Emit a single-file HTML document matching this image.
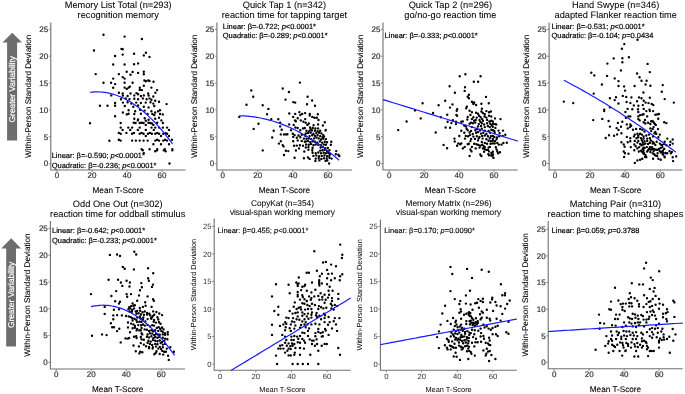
<!DOCTYPE html>
<html><head><meta charset="utf-8"><style>
html,body{margin:0;padding:0;background:#fff;overflow:hidden;width:685px;height:394px;}
svg{display:block;font-family:"Liberation Sans", sans-serif;will-change:transform;text-rendering:geometricPrecision;}
</style></head><body>
<svg width="685" height="394" viewBox="0 0 685 394">
<rect width="685" height="394" fill="#fff"/>
<text x="118.20" y="8.40" font-size="9.25" text-anchor="middle" fill="#000" stroke="#000" stroke-width="0.05">Memory List Total (n=293)</text>
<text x="118.20" y="17.50" font-size="9.25" text-anchor="middle" fill="#000" stroke="#000" stroke-width="0.05">recognition memory</text>
<path d="M50.80,22.50V170.00H185.60" fill="none" stroke="#707070" stroke-width="1.1"/>
<path d="M48.80,163.60H50.80" stroke="#707070" stroke-width="0.8"/>
<text x="48.20" y="166.48" font-size="8.0" text-anchor="end" fill="#333" stroke="#333" stroke-width="0.2">0</text>
<path d="M48.80,136.75H50.80" stroke="#707070" stroke-width="0.8"/>
<text x="48.20" y="139.63" font-size="8.0" text-anchor="end" fill="#333" stroke="#333" stroke-width="0.2">5</text>
<path d="M48.80,109.90H50.80" stroke="#707070" stroke-width="0.8"/>
<text x="48.20" y="112.78" font-size="8.0" text-anchor="end" fill="#333" stroke="#333" stroke-width="0.2">10</text>
<path d="M48.80,83.05H50.80" stroke="#707070" stroke-width="0.8"/>
<text x="48.20" y="85.93" font-size="8.0" text-anchor="end" fill="#333" stroke="#333" stroke-width="0.2">15</text>
<path d="M48.80,56.20H50.80" stroke="#707070" stroke-width="0.8"/>
<text x="48.20" y="59.08" font-size="8.0" text-anchor="end" fill="#333" stroke="#333" stroke-width="0.2">20</text>
<path d="M48.80,29.35H50.80" stroke="#707070" stroke-width="0.8"/>
<text x="48.20" y="32.23" font-size="8.0" text-anchor="end" fill="#333" stroke="#333" stroke-width="0.2">25</text>
<path d="M57.00,170.00V172.00" stroke="#707070" stroke-width="0.8"/>
<text x="57.00" y="178.36" font-size="8.0" text-anchor="middle" fill="#333" stroke="#333" stroke-width="0.2">0</text>
<path d="M92.00,170.00V172.00" stroke="#707070" stroke-width="0.8"/>
<text x="92.00" y="178.36" font-size="8.0" text-anchor="middle" fill="#333" stroke="#333" stroke-width="0.2">20</text>
<path d="M127.00,170.00V172.00" stroke="#707070" stroke-width="0.8"/>
<text x="127.00" y="178.36" font-size="8.0" text-anchor="middle" fill="#333" stroke="#333" stroke-width="0.2">40</text>
<path d="M162.00,170.00V172.00" stroke="#707070" stroke-width="0.8"/>
<text x="162.00" y="178.36" font-size="8.0" text-anchor="middle" fill="#333" stroke="#333" stroke-width="0.2">60</text>
<text x="118.20" y="192.90" font-size="8.2" text-anchor="middle" fill="#000" stroke="#000" stroke-width="0.1">Mean T-Score</text>
<text transform="translate(31.00,96.25) rotate(-90)" font-size="8.2" text-anchor="middle" fill="#000" stroke="#000" stroke-width="0.1">Within-Person Standard Deviation</text>
<text x="51.70" y="158.10" font-size="7.48" fill="#000" stroke="#000" stroke-width="0.18">Linear: β=-0.590; <tspan font-style="italic">p</tspan><0.0001*</text>
<text x="51.70" y="167.50" font-size="7.48" fill="#000" stroke="#000" stroke-width="0.18">Quadratic: β=-0.236; <tspan font-style="italic">p</tspan><0.0001*</text>
<text x="284.40" y="8.40" font-size="9.25" text-anchor="middle" fill="#000" stroke="#000" stroke-width="0.05">Quick Tap 1 (n=342)</text>
<text x="284.40" y="17.50" font-size="9.25" text-anchor="middle" fill="#000" stroke="#000" stroke-width="0.05">reaction time for tapping target</text>
<path d="M216.90,22.50V170.00H351.90" fill="none" stroke="#707070" stroke-width="1.1"/>
<path d="M214.90,163.60H216.90" stroke="#707070" stroke-width="0.8"/>
<text x="214.30" y="166.48" font-size="8.0" text-anchor="end" fill="#333" stroke="#333" stroke-width="0.2">0</text>
<path d="M214.90,136.75H216.90" stroke="#707070" stroke-width="0.8"/>
<text x="214.30" y="139.63" font-size="8.0" text-anchor="end" fill="#333" stroke="#333" stroke-width="0.2">5</text>
<path d="M214.90,109.90H216.90" stroke="#707070" stroke-width="0.8"/>
<text x="214.30" y="112.78" font-size="8.0" text-anchor="end" fill="#333" stroke="#333" stroke-width="0.2">10</text>
<path d="M214.90,83.05H216.90" stroke="#707070" stroke-width="0.8"/>
<text x="214.30" y="85.93" font-size="8.0" text-anchor="end" fill="#333" stroke="#333" stroke-width="0.2">15</text>
<path d="M214.90,56.20H216.90" stroke="#707070" stroke-width="0.8"/>
<text x="214.30" y="59.08" font-size="8.0" text-anchor="end" fill="#333" stroke="#333" stroke-width="0.2">20</text>
<path d="M214.90,29.35H216.90" stroke="#707070" stroke-width="0.8"/>
<text x="214.30" y="32.23" font-size="8.0" text-anchor="end" fill="#333" stroke="#333" stroke-width="0.2">25</text>
<path d="M222.70,170.00V172.00" stroke="#707070" stroke-width="0.8"/>
<text x="222.70" y="178.36" font-size="8.0" text-anchor="middle" fill="#333" stroke="#333" stroke-width="0.2">0</text>
<path d="M257.80,170.00V172.00" stroke="#707070" stroke-width="0.8"/>
<text x="257.80" y="178.36" font-size="8.0" text-anchor="middle" fill="#333" stroke="#333" stroke-width="0.2">20</text>
<path d="M292.90,170.00V172.00" stroke="#707070" stroke-width="0.8"/>
<text x="292.90" y="178.36" font-size="8.0" text-anchor="middle" fill="#333" stroke="#333" stroke-width="0.2">40</text>
<path d="M328.00,170.00V172.00" stroke="#707070" stroke-width="0.8"/>
<text x="328.00" y="178.36" font-size="8.0" text-anchor="middle" fill="#333" stroke="#333" stroke-width="0.2">60</text>
<text x="284.40" y="192.90" font-size="8.2" text-anchor="middle" fill="#000" stroke="#000" stroke-width="0.1">Mean T-Score</text>
<text transform="translate(197.10,96.25) rotate(-90)" font-size="8.2" text-anchor="middle" fill="#000" stroke="#000" stroke-width="0.1">Within-Person Standard Deviation</text>
<text x="222.80" y="28.90" font-size="7.48" fill="#000" stroke="#000" stroke-width="0.18">Linear: β=-0.722; <tspan font-style="italic">p</tspan><0.0001*</text>
<text x="222.80" y="37.90" font-size="7.48" fill="#000" stroke="#000" stroke-width="0.18">Quadratic: β=-0.289; <tspan font-style="italic">p</tspan><0.0001*</text>
<text x="450.35" y="8.40" font-size="9.25" text-anchor="middle" fill="#000" stroke="#000" stroke-width="0.05">Quick Tap 2 (n=296)</text>
<text x="450.35" y="17.50" font-size="9.25" text-anchor="middle" fill="#000" stroke="#000" stroke-width="0.05">go/no-go reaction time</text>
<path d="M383.00,22.50V170.00H517.70" fill="none" stroke="#707070" stroke-width="1.1"/>
<path d="M381.00,163.60H383.00" stroke="#707070" stroke-width="0.8"/>
<text x="380.40" y="166.48" font-size="8.0" text-anchor="end" fill="#333" stroke="#333" stroke-width="0.2">0</text>
<path d="M381.00,136.75H383.00" stroke="#707070" stroke-width="0.8"/>
<text x="380.40" y="139.63" font-size="8.0" text-anchor="end" fill="#333" stroke="#333" stroke-width="0.2">5</text>
<path d="M381.00,109.90H383.00" stroke="#707070" stroke-width="0.8"/>
<text x="380.40" y="112.78" font-size="8.0" text-anchor="end" fill="#333" stroke="#333" stroke-width="0.2">10</text>
<path d="M381.00,83.05H383.00" stroke="#707070" stroke-width="0.8"/>
<text x="380.40" y="85.93" font-size="8.0" text-anchor="end" fill="#333" stroke="#333" stroke-width="0.2">15</text>
<path d="M381.00,56.20H383.00" stroke="#707070" stroke-width="0.8"/>
<text x="380.40" y="59.08" font-size="8.0" text-anchor="end" fill="#333" stroke="#333" stroke-width="0.2">20</text>
<path d="M381.00,29.35H383.00" stroke="#707070" stroke-width="0.8"/>
<text x="380.40" y="32.23" font-size="8.0" text-anchor="end" fill="#333" stroke="#333" stroke-width="0.2">25</text>
<path d="M389.20,170.00V172.00" stroke="#707070" stroke-width="0.8"/>
<text x="389.20" y="178.36" font-size="8.0" text-anchor="middle" fill="#333" stroke="#333" stroke-width="0.2">0</text>
<path d="M424.10,170.00V172.00" stroke="#707070" stroke-width="0.8"/>
<text x="424.10" y="178.36" font-size="8.0" text-anchor="middle" fill="#333" stroke="#333" stroke-width="0.2">20</text>
<path d="M459.00,170.00V172.00" stroke="#707070" stroke-width="0.8"/>
<text x="459.00" y="178.36" font-size="8.0" text-anchor="middle" fill="#333" stroke="#333" stroke-width="0.2">40</text>
<path d="M493.90,170.00V172.00" stroke="#707070" stroke-width="0.8"/>
<text x="493.90" y="178.36" font-size="8.0" text-anchor="middle" fill="#333" stroke="#333" stroke-width="0.2">60</text>
<text x="450.35" y="192.90" font-size="8.2" text-anchor="middle" fill="#000" stroke="#000" stroke-width="0.1">Mean T-Score</text>
<text transform="translate(363.20,96.25) rotate(-90)" font-size="8.2" text-anchor="middle" fill="#000" stroke="#000" stroke-width="0.1">Within-Person Standard Deviation</text>
<text x="384.60" y="37.80" font-size="7.48" fill="#000" stroke="#000" stroke-width="0.18">Linear: β=-0.333; <tspan font-style="italic">p</tspan><0.0001*</text>
<text x="615.70" y="8.40" font-size="9.25" text-anchor="middle" fill="#000" stroke="#000" stroke-width="0.05">Hand Swype (n=346)</text>
<text x="615.70" y="17.50" font-size="9.25" text-anchor="middle" fill="#000" stroke="#000" stroke-width="0.05">adapted Flanker reaction time</text>
<path d="M549.10,22.50V170.00H682.30" fill="none" stroke="#707070" stroke-width="1.1"/>
<path d="M547.10,163.60H549.10" stroke="#707070" stroke-width="0.8"/>
<text x="546.50" y="166.48" font-size="8.0" text-anchor="end" fill="#333" stroke="#333" stroke-width="0.2">0</text>
<path d="M547.10,136.75H549.10" stroke="#707070" stroke-width="0.8"/>
<text x="546.50" y="139.63" font-size="8.0" text-anchor="end" fill="#333" stroke="#333" stroke-width="0.2">5</text>
<path d="M547.10,109.90H549.10" stroke="#707070" stroke-width="0.8"/>
<text x="546.50" y="112.78" font-size="8.0" text-anchor="end" fill="#333" stroke="#333" stroke-width="0.2">10</text>
<path d="M547.10,83.05H549.10" stroke="#707070" stroke-width="0.8"/>
<text x="546.50" y="85.93" font-size="8.0" text-anchor="end" fill="#333" stroke="#333" stroke-width="0.2">15</text>
<path d="M547.10,56.20H549.10" stroke="#707070" stroke-width="0.8"/>
<text x="546.50" y="59.08" font-size="8.0" text-anchor="end" fill="#333" stroke="#333" stroke-width="0.2">20</text>
<path d="M547.10,29.35H549.10" stroke="#707070" stroke-width="0.8"/>
<text x="546.50" y="32.23" font-size="8.0" text-anchor="end" fill="#333" stroke="#333" stroke-width="0.2">25</text>
<path d="M554.90,170.00V172.00" stroke="#707070" stroke-width="0.8"/>
<text x="554.90" y="178.36" font-size="8.0" text-anchor="middle" fill="#333" stroke="#333" stroke-width="0.2">0</text>
<path d="M590.00,170.00V172.00" stroke="#707070" stroke-width="0.8"/>
<text x="590.00" y="178.36" font-size="8.0" text-anchor="middle" fill="#333" stroke="#333" stroke-width="0.2">20</text>
<path d="M625.10,170.00V172.00" stroke="#707070" stroke-width="0.8"/>
<text x="625.10" y="178.36" font-size="8.0" text-anchor="middle" fill="#333" stroke="#333" stroke-width="0.2">40</text>
<path d="M660.20,170.00V172.00" stroke="#707070" stroke-width="0.8"/>
<text x="660.20" y="178.36" font-size="8.0" text-anchor="middle" fill="#333" stroke="#333" stroke-width="0.2">60</text>
<text x="615.70" y="192.90" font-size="8.2" text-anchor="middle" fill="#000" stroke="#000" stroke-width="0.1">Mean T-Score</text>
<text transform="translate(529.30,96.25) rotate(-90)" font-size="8.2" text-anchor="middle" fill="#000" stroke="#000" stroke-width="0.1">Within-Person Standard Deviation</text>
<text x="551.50" y="28.90" font-size="7.48" fill="#000" stroke="#000" stroke-width="0.18">Linear: β=-0.531; <tspan font-style="italic">p</tspan><0.0001*</text>
<text x="551.50" y="37.90" font-size="7.48" fill="#000" stroke="#000" stroke-width="0.18">Quadratic: β=-0.104; <tspan font-style="italic">p</tspan>=0.0434</text>
<text x="117.70" y="206.50" font-size="9.25" text-anchor="middle" fill="#000" stroke="#000" stroke-width="0.05">Odd One Out (n=302)</text>
<text x="117.70" y="216.50" font-size="9.25" text-anchor="middle" fill="#000" stroke="#000" stroke-width="0.05">reaction time for oddball stimulus</text>
<path d="M50.40,221.00V369.00H185.00" fill="none" stroke="#707070" stroke-width="1.1"/>
<path d="M48.40,362.40H50.40" stroke="#707070" stroke-width="0.8"/>
<text x="47.80" y="365.28" font-size="8.0" text-anchor="end" fill="#333" stroke="#333" stroke-width="0.2">0</text>
<path d="M48.40,335.60H50.40" stroke="#707070" stroke-width="0.8"/>
<text x="47.80" y="338.48" font-size="8.0" text-anchor="end" fill="#333" stroke="#333" stroke-width="0.2">5</text>
<path d="M48.40,308.80H50.40" stroke="#707070" stroke-width="0.8"/>
<text x="47.80" y="311.68" font-size="8.0" text-anchor="end" fill="#333" stroke="#333" stroke-width="0.2">10</text>
<path d="M48.40,282.00H50.40" stroke="#707070" stroke-width="0.8"/>
<text x="47.80" y="284.88" font-size="8.0" text-anchor="end" fill="#333" stroke="#333" stroke-width="0.2">15</text>
<path d="M48.40,255.20H50.40" stroke="#707070" stroke-width="0.8"/>
<text x="47.80" y="258.08" font-size="8.0" text-anchor="end" fill="#333" stroke="#333" stroke-width="0.2">20</text>
<path d="M48.40,228.40H50.40" stroke="#707070" stroke-width="0.8"/>
<text x="47.80" y="231.28" font-size="8.0" text-anchor="end" fill="#333" stroke="#333" stroke-width="0.2">25</text>
<path d="M56.20,369.00V371.00" stroke="#707070" stroke-width="0.8"/>
<text x="56.20" y="377.36" font-size="8.0" text-anchor="middle" fill="#333" stroke="#333" stroke-width="0.2">0</text>
<path d="M91.24,369.00V371.00" stroke="#707070" stroke-width="0.8"/>
<text x="91.24" y="377.36" font-size="8.0" text-anchor="middle" fill="#333" stroke="#333" stroke-width="0.2">20</text>
<path d="M126.28,369.00V371.00" stroke="#707070" stroke-width="0.8"/>
<text x="126.28" y="377.36" font-size="8.0" text-anchor="middle" fill="#333" stroke="#333" stroke-width="0.2">40</text>
<path d="M161.32,369.00V371.00" stroke="#707070" stroke-width="0.8"/>
<text x="161.32" y="377.36" font-size="8.0" text-anchor="middle" fill="#333" stroke="#333" stroke-width="0.2">60</text>
<text x="117.70" y="391.90" font-size="8.2" text-anchor="middle" fill="#000" stroke="#000" stroke-width="0.1">Mean T-Score</text>
<text transform="translate(30.30,295.00) rotate(-90)" font-size="8.2" text-anchor="middle" fill="#000" stroke="#000" stroke-width="0.1">Within-Person Standard Deviation</text>
<text x="52.00" y="233.30" font-size="7.48" fill="#000" stroke="#000" stroke-width="0.18">Linear: β=-0.642; <tspan font-style="italic">p</tspan><0.0001*</text>
<text x="52.00" y="243.00" font-size="7.48" fill="#000" stroke="#000" stroke-width="0.18">Quadratic: β=-0.233; <tspan font-style="italic">p</tspan><0.0001*</text>
<text x="282.45" y="205.50" font-size="8.3" text-anchor="middle" fill="#000" stroke="#000" stroke-width="0.05">CopyKat (n=354)</text>
<text x="282.45" y="214.80" font-size="8.3" text-anchor="middle" fill="#000" stroke="#000" stroke-width="0.05">visual-span working memory</text>
<path d="M214.20,218.80V370.30H350.70" fill="none" stroke="#707070" stroke-width="1.1"/>
<path d="M212.20,364.10H214.20" stroke="#707070" stroke-width="0.8"/>
<text x="211.60" y="366.87" font-size="7.7" text-anchor="end" fill="#333" stroke="#333" stroke-width="0.0">0</text>
<path d="M212.20,336.56H214.20" stroke="#707070" stroke-width="0.8"/>
<text x="211.60" y="339.33" font-size="7.7" text-anchor="end" fill="#333" stroke="#333" stroke-width="0.0">5</text>
<path d="M212.20,309.02H214.20" stroke="#707070" stroke-width="0.8"/>
<text x="211.60" y="311.79" font-size="7.7" text-anchor="end" fill="#333" stroke="#333" stroke-width="0.0">10</text>
<path d="M212.20,281.48H214.20" stroke="#707070" stroke-width="0.8"/>
<text x="211.60" y="284.25" font-size="7.7" text-anchor="end" fill="#333" stroke="#333" stroke-width="0.0">15</text>
<path d="M212.20,253.94H214.20" stroke="#707070" stroke-width="0.8"/>
<text x="211.60" y="256.71" font-size="7.7" text-anchor="end" fill="#333" stroke="#333" stroke-width="0.0">20</text>
<path d="M212.20,226.40H214.20" stroke="#707070" stroke-width="0.8"/>
<text x="211.60" y="229.17" font-size="7.7" text-anchor="end" fill="#333" stroke="#333" stroke-width="0.0">25</text>
<path d="M220.20,370.30V372.30" stroke="#707070" stroke-width="0.8"/>
<text x="220.20" y="378.94" font-size="7.7" text-anchor="middle" fill="#333" stroke="#333" stroke-width="0.0">0</text>
<path d="M255.84,370.30V372.30" stroke="#707070" stroke-width="0.8"/>
<text x="255.84" y="378.94" font-size="7.7" text-anchor="middle" fill="#333" stroke="#333" stroke-width="0.0">20</text>
<path d="M291.48,370.30V372.30" stroke="#707070" stroke-width="0.8"/>
<text x="291.48" y="378.94" font-size="7.7" text-anchor="middle" fill="#333" stroke="#333" stroke-width="0.0">40</text>
<path d="M327.12,370.30V372.30" stroke="#707070" stroke-width="0.8"/>
<text x="327.12" y="378.94" font-size="7.7" text-anchor="middle" fill="#333" stroke="#333" stroke-width="0.0">60</text>
<text x="282.45" y="392.20" font-size="7.4" text-anchor="middle" fill="#000" stroke="#000" stroke-width="0.0">Mean T-Score</text>
<text transform="translate(196.00,294.55) rotate(-90)" font-size="7.4" text-anchor="middle" fill="#000" stroke="#000" stroke-width="0.0">Within-Person Standard Deviation</text>
<text x="217.60" y="233.40" font-size="7.48" fill="#000" stroke="#000" stroke-width="0.12">Linear: β=0.455; <tspan font-style="italic">p</tspan><0.0001*</text>
<text x="448.60" y="205.50" font-size="8.3" text-anchor="middle" fill="#000" stroke="#000" stroke-width="0.05">Memory Matrix (n=296)</text>
<text x="448.60" y="214.80" font-size="8.3" text-anchor="middle" fill="#000" stroke="#000" stroke-width="0.05">visual-span working memory</text>
<path d="M380.40,219.40V370.30H516.80" fill="none" stroke="#707070" stroke-width="1.1"/>
<path d="M378.40,364.10H380.40" stroke="#707070" stroke-width="0.8"/>
<text x="377.80" y="366.87" font-size="7.7" text-anchor="end" fill="#333" stroke="#333" stroke-width="0.0">0</text>
<path d="M378.40,336.56H380.40" stroke="#707070" stroke-width="0.8"/>
<text x="377.80" y="339.33" font-size="7.7" text-anchor="end" fill="#333" stroke="#333" stroke-width="0.0">5</text>
<path d="M378.40,309.02H380.40" stroke="#707070" stroke-width="0.8"/>
<text x="377.80" y="311.79" font-size="7.7" text-anchor="end" fill="#333" stroke="#333" stroke-width="0.0">10</text>
<path d="M378.40,281.48H380.40" stroke="#707070" stroke-width="0.8"/>
<text x="377.80" y="284.25" font-size="7.7" text-anchor="end" fill="#333" stroke="#333" stroke-width="0.0">15</text>
<path d="M378.40,253.94H380.40" stroke="#707070" stroke-width="0.8"/>
<text x="377.80" y="256.71" font-size="7.7" text-anchor="end" fill="#333" stroke="#333" stroke-width="0.0">20</text>
<path d="M378.40,226.40H380.40" stroke="#707070" stroke-width="0.8"/>
<text x="377.80" y="229.17" font-size="7.7" text-anchor="end" fill="#333" stroke="#333" stroke-width="0.0">25</text>
<path d="M386.30,370.30V372.30" stroke="#707070" stroke-width="0.8"/>
<text x="386.30" y="378.94" font-size="7.7" text-anchor="middle" fill="#333" stroke="#333" stroke-width="0.0">0</text>
<path d="M421.84,370.30V372.30" stroke="#707070" stroke-width="0.8"/>
<text x="421.84" y="378.94" font-size="7.7" text-anchor="middle" fill="#333" stroke="#333" stroke-width="0.0">20</text>
<path d="M457.38,370.30V372.30" stroke="#707070" stroke-width="0.8"/>
<text x="457.38" y="378.94" font-size="7.7" text-anchor="middle" fill="#333" stroke="#333" stroke-width="0.0">40</text>
<path d="M492.92,370.30V372.30" stroke="#707070" stroke-width="0.8"/>
<text x="492.92" y="378.94" font-size="7.7" text-anchor="middle" fill="#333" stroke="#333" stroke-width="0.0">60</text>
<text x="448.60" y="392.20" font-size="7.4" text-anchor="middle" fill="#000" stroke="#000" stroke-width="0.0">Mean T-Score</text>
<text transform="translate(361.90,294.85) rotate(-90)" font-size="7.4" text-anchor="middle" fill="#000" stroke="#000" stroke-width="0.0">Within-Person Standard Deviation</text>
<text x="384.20" y="233.40" font-size="7.48" fill="#000" stroke="#000" stroke-width="0.12">Linear: β=0.170; <tspan font-style="italic">p</tspan>=0.0090*</text>
<text x="615.45" y="206.50" font-size="9.25" text-anchor="middle" fill="#000" stroke="#000" stroke-width="0.05">Matching Pair (n=310)</text>
<text x="615.45" y="216.50" font-size="9.25" text-anchor="middle" fill="#000" stroke="#000" stroke-width="0.05">reaction time to matching shapes</text>
<path d="M548.20,221.00V368.80H682.70" fill="none" stroke="#707070" stroke-width="1.1"/>
<path d="M546.20,362.50H548.20" stroke="#707070" stroke-width="0.8"/>
<text x="545.60" y="365.38" font-size="8.0" text-anchor="end" fill="#333" stroke="#333" stroke-width="0.2">0</text>
<path d="M546.20,335.85H548.20" stroke="#707070" stroke-width="0.8"/>
<text x="545.60" y="338.73" font-size="8.0" text-anchor="end" fill="#333" stroke="#333" stroke-width="0.2">5</text>
<path d="M546.20,309.20H548.20" stroke="#707070" stroke-width="0.8"/>
<text x="545.60" y="312.08" font-size="8.0" text-anchor="end" fill="#333" stroke="#333" stroke-width="0.2">10</text>
<path d="M546.20,282.55H548.20" stroke="#707070" stroke-width="0.8"/>
<text x="545.60" y="285.43" font-size="8.0" text-anchor="end" fill="#333" stroke="#333" stroke-width="0.2">15</text>
<path d="M546.20,255.90H548.20" stroke="#707070" stroke-width="0.8"/>
<text x="545.60" y="258.78" font-size="8.0" text-anchor="end" fill="#333" stroke="#333" stroke-width="0.2">20</text>
<path d="M546.20,229.25H548.20" stroke="#707070" stroke-width="0.8"/>
<text x="545.60" y="232.13" font-size="8.0" text-anchor="end" fill="#333" stroke="#333" stroke-width="0.2">25</text>
<path d="M554.20,368.80V370.80" stroke="#707070" stroke-width="0.8"/>
<text x="554.20" y="377.16" font-size="8.0" text-anchor="middle" fill="#333" stroke="#333" stroke-width="0.2">0</text>
<path d="M589.16,368.80V370.80" stroke="#707070" stroke-width="0.8"/>
<text x="589.16" y="377.16" font-size="8.0" text-anchor="middle" fill="#333" stroke="#333" stroke-width="0.2">20</text>
<path d="M624.12,368.80V370.80" stroke="#707070" stroke-width="0.8"/>
<text x="624.12" y="377.16" font-size="8.0" text-anchor="middle" fill="#333" stroke="#333" stroke-width="0.2">40</text>
<path d="M659.08,368.80V370.80" stroke="#707070" stroke-width="0.8"/>
<text x="659.08" y="377.16" font-size="8.0" text-anchor="middle" fill="#333" stroke="#333" stroke-width="0.2">60</text>
<text x="615.45" y="391.70" font-size="8.2" text-anchor="middle" fill="#000" stroke="#000" stroke-width="0.1">Mean T-Score</text>
<text transform="translate(528.00,294.90) rotate(-90)" font-size="8.2" text-anchor="middle" fill="#000" stroke="#000" stroke-width="0.1">Within-Person Standard Deviation</text>
<text x="551.60" y="233.30" font-size="7.48" fill="#000" stroke="#000" stroke-width="0.18">Linear: β=0.059; <tspan font-style="italic">p</tspan>=0.3788</text>
<path d="M12.2,32.7L22.1,42.5H17.1V140.6H7.1V42.5H2.5Z" fill="#6d6d6d"/>
<text transform="translate(15.3,89.2) rotate(-90)" font-size="8.4" text-anchor="middle" fill="#fff" stroke="#fff" stroke-width="0.2">Greater Variability</text>
<path d="M11.2,238.2L21.1,248.6H16.0V346.5H6.2V248.6H1.2Z" fill="#6d6d6d"/>
<text transform="translate(14.4,294.9) rotate(-90)" font-size="8.4" text-anchor="middle" fill="#fff" stroke="#fff" stroke-width="0.2">Greater Variability</text>
<path d="M103.5,34.8h0M94.0,50.5h0M115.1,56.0h0M113.2,64.5h0M95.7,74.1h0M118.9,74.1h0M113.2,78.6h0M103.5,82.8h0M111.1,82.8h0M115.1,84.1h0M113.2,87.8h0M118.9,92.7h0M124.6,36.6h0M141.9,39.0h0M121.5,48.9h0M122.7,49.3h0M122.7,54.6h0M134.1,53.7h0M143.8,55.4h0M145.9,52.7h0M149.5,56.9h0M124.6,64.5h0M134.1,64.2h0M138.1,63.4h0M126.7,71.8h0M130.5,74.8h0M132.6,72.0h0M138.1,72.9h0M143.8,71.8h0M143.8,74.3h0M122.7,77.1h0M124.6,78.6h0M124.6,82.8h0M132.6,82.8h0M144.4,80.5h0M145.9,81.3h0M148.2,80.5h0M149.5,80.9h0M153.5,81.7h0M143.8,85.7h0M124.6,87.6h0M126.7,88.9h0M128.6,87.6h0M129.9,86.6h0M139.8,87.8h0M139.8,89.9h0M141.9,90.1h0M151.4,87.6h0M157.1,90.1h0M122.7,93.5h0M130.5,93.5h0M136.4,93.1h0M138.1,94.2h0M148.2,93.5h0M155.4,92.7h0M111.3,95.4h0M99.9,105.7h0M107.5,105.7h0M115.1,103.0h0M115.1,105.7h0M115.1,116.3h0M90.0,123.2h0M109.4,140.7h0M122.9,95.6h0M127.6,96.0h0M134.3,95.4h0M140.9,96.0h0M143.8,95.4h0M148.6,95.6h0M153.3,96.5h0M121.0,99.2h0M125.7,98.4h0M129.5,99.2h0M134.3,98.8h0M138.1,99.2h0M142.8,98.4h0M146.6,99.2h0M149.5,98.4h0M151.4,99.8h0M155.2,100.7h0M159.0,101.7h0M122.9,102.6h0M127.6,102.2h0M131.4,103.6h0M136.2,102.6h0M140.9,103.0h0M145.7,102.6h0M150.5,102.2h0M153.3,103.6h0M166.6,104.1h0M124.8,106.0h0M133.3,106.8h0M138.1,105.5h0M143.8,106.8h0M148.6,107.4h0M154.3,106.0h0M128.6,110.2h0M135.2,111.2h0M140.0,109.8h0M144.7,110.6h0M151.4,111.2h0M155.2,112.5h0M158.1,111.2h0M160.0,110.2h0M122.9,112.5h0M126.7,114.4h0M128.6,113.7h0M134.3,114.0h0M140.9,113.7h0M147.6,114.0h0M152.4,114.0h0M154.3,115.0h0M160.0,114.0h0M162.8,114.4h0M134.3,118.8h0M138.1,119.4h0M144.7,118.2h0M148.6,119.7h0M155.2,118.8h0M159.0,117.8h0M142.8,150.2h0M155.2,151.2h0M157.1,150.2h0M163.8,150.2h0M165.7,151.2h0M172.3,150.2h0M143.8,153.1h0M169.5,163.5h0M145.8,120.8h0M148.4,122.7h0M150.3,123.0h0M151.9,123.4h0M153.4,124.9h0M157.2,122.7h0M161.4,120.4h0M162.9,123.0h0M145.8,124.9h0M151.5,127.6h0M153.8,129.9h0M155.3,127.6h0M159.1,127.6h0M162.9,127.6h0M167.1,127.6h0M169.0,129.9h0M145.8,129.9h0M148.0,133.7h0M149.9,132.9h0M151.9,133.7h0M155.3,133.7h0M157.2,132.9h0M159.1,133.7h0M163.3,133.7h0M165.6,133.3h0M167.1,133.7h0M145.8,136.0h0M161.0,136.0h0M169.0,136.0h0M147.7,140.6h0M155.3,140.6h0M157.2,139.8h0M159.1,140.6h0M163.3,140.6h0M165.2,139.8h0M167.1,140.6h0M172.0,139.8h0M153.4,144.2h0M161.0,144.2h0M169.0,144.2h0M149.6,149.3h0M157.2,149.3h0M164.8,149.3h0M172.4,149.3h0M120.7,123.0h0M133.7,122.7h0M135.6,123.0h0M137.8,120.4h0M139.7,123.0h0M141.6,122.7h0M143.6,123.0h0M120.7,127.6h0M122.6,129.9h0M128.3,127.6h0M130.2,129.9h0M132.1,127.6h0M137.8,129.9h0M139.7,127.6h0M118.8,132.9h0M120.7,133.7h0M126.4,132.9h0M132.1,133.7h0M134.0,132.9h0M139.7,133.7h0M141.6,132.9h0M143.6,133.7h0M118.8,139.8h0M120.7,140.6h0M132.1,140.6h0M135.9,140.6h0M139.7,140.6h0M143.6,140.6h0M141.6,149.3h0" stroke="#000" stroke-width="2.4" stroke-linecap="round" fill="none"/>
<path d="M251.3,90.4h0M253.2,96.7h0M246.5,104.7h0M262.7,105.3h0M268.4,108.9h0M267.1,114.2h0M282.7,88.5h0M285.5,99.6h0M299.9,82.6h0M288.9,92.0h0M307.6,96.7h0M312.1,100.5h0M293.3,102.1h0M295.2,102.6h0M307.0,104.3h0M315.0,105.7h0M289.3,113.5h0M295.2,113.9h0M299.4,112.3h0M302.2,113.9h0M305.1,113.1h0M309.8,113.9h0M317.8,114.2h0M239.3,116.9h0M258.5,123.8h0M253.7,128.9h0M271.3,119.2h0M278.3,119.2h0M280.2,122.6h0M280.2,126.4h0M281.7,129.8h0M273.7,130.8h0M280.8,134.4h0M284.0,134.4h0M285.9,134.4h0M272.2,137.5h0M280.8,141.3h0M278.9,143.6h0M282.7,145.1h0M283.6,146.4h0M285.9,150.8h0M262.7,150.4h0M284.0,155.0h0M293.2,116.9h0M300.3,115.1h0M309.7,115.6h0M312.3,116.9h0M314.5,117.8h0M316.8,117.8h0M318.5,120.0h0M297.7,118.2h0M305.2,119.1h0M295.0,120.4h0M295.9,121.3h0M300.8,120.4h0M303.4,121.8h0M305.7,122.7h0M307.4,124.9h0M308.8,123.5h0M289.2,124.4h0M293.7,124.9h0M313.6,125.3h0M318.1,124.4h0M295.4,127.5h0M297.7,128.0h0M303.0,128.4h0M304.8,128.0h0M310.1,127.5h0M310.5,129.3h0M312.8,128.0h0M315.4,128.4h0M318.1,128.4h0M291.0,130.2h0M300.3,130.2h0M292.8,133.8h0M294.6,135.1h0M298.5,135.5h0M301.7,134.7h0M304.8,135.1h0M293.2,136.9h0M296.8,137.8h0M300.3,137.3h0M303.9,138.6h0M293.2,141.3h0M297.7,140.4h0M301.7,140.9h0M304.8,141.8h0M294.1,145.8h0M296.8,145.6h0M299.9,145.3h0M303.0,145.8h0M287.4,134.2h0M324.8,122.2h0M322.9,125.5h0M325.7,129.9h0M295.9,150.5h0M288.3,151.1h0M299.0,148.4h0M304.3,151.5h0M294.6,157.8h0M303.9,158.2h0M315.4,160.9h0M319.4,160.4h0M336.2,151.1h0M335.8,154.2h0M338.4,154.7h0M339.3,156.0h0M329.1,163.5h0M327.3,160.4h0M325.6,160.9h0M306.5,130.8h0M309.2,131.1h0M311.9,130.4h0M314.9,130.8h0M317.6,131.1h0M320.2,130.8h0M325.6,130.4h0M305.8,133.4h0M308.0,133.0h0M310.7,132.7h0M313.4,133.8h0M316.4,133.0h0M319.1,132.7h0M321.4,133.4h0M323.3,135.3h0M305.4,136.1h0M309.6,136.1h0M312.2,135.3h0M314.9,135.7h0M317.6,135.3h0M320.2,136.1h0M322.5,137.2h0M324.0,136.5h0M306.5,138.8h0M308.8,138.4h0M311.1,139.1h0M314.1,138.4h0M316.4,137.6h0M318.7,138.4h0M321.0,139.5h0M323.3,138.8h0M325.9,139.1h0M305.8,141.4h0M308.0,141.0h0M310.3,142.2h0M312.6,141.4h0M314.9,141.8h0M317.2,142.6h0M319.8,141.4h0M322.1,142.6h0M324.8,141.8h0M327.1,142.2h0M331.3,141.8h0M306.1,144.5h0M308.8,144.8h0M311.1,144.1h0M313.4,145.2h0M315.7,144.5h0M318.3,144.8h0M321.0,145.2h0M323.7,144.5h0M325.9,144.8h0M330.9,144.8h0M305.8,147.5h0M308.4,147.1h0M312.6,147.9h0M320.6,147.5h0M322.9,147.1h0M325.2,148.3h0M327.8,147.9h0M308.4,149.8h0M312.2,150.2h0M320.2,150.6h0M322.5,150.2h0M324.8,149.8h0M327.1,150.9h0M329.4,150.2h0M312.6,152.8h0M315.7,153.2h0M318.3,152.5h0M321.0,153.2h0M323.7,152.8h0M325.9,153.2h0M328.2,152.8h0M330.1,154.0h0M313.4,155.9h0M316.4,155.5h0M319.1,156.3h0M321.8,155.9h0M324.4,155.5h0M327.1,156.3h0M329.4,155.5h0M308.0,157.4h0M309.6,158.9h0M315.7,158.6h0M318.7,158.2h0M321.4,158.9h0M324.0,158.2h0M326.7,158.6h0M329.4,157.8h0M331.6,158.6h0" stroke="#000" stroke-width="2.4" stroke-linecap="round" fill="none"/>
<path d="M449.6,86.3h0M422.6,103.2h0M445.2,100.7h0M438.6,105.3h0M450.0,107.6h0M452.5,104.4h0M415.0,110.4h0M420.7,118.4h0M406.6,121.5h0M398.2,130.1h0M459.7,76.2h0M465.4,74.3h0M480.6,76.2h0M454.9,92.7h0M457.2,109.1h0M433.1,113.0h0M440.8,117.2h0M447.2,114.7h0M456.7,110.8h0M456.4,114.9h0M457.1,115.7h0M447.6,121.8h0M451.4,123.1h0M452.9,120.3h0M456.0,121.8h0M456.0,124.1h0M461.3,121.8h0M445.6,127.5h0M450.1,127.7h0M435.7,132.5h0M461.3,130.7h0M459.3,136.0h0M454.5,138.6h0M443.6,144.9h0M447.1,148.2h0M454.7,141.5h0M457.1,145.7h0M458.3,143.4h0M460.2,144.2h0M461.3,143.4h0M473.8,81.7h0M478.1,81.7h0M465.0,87.2h0M464.7,90.9h0M468.9,94.8h0M467.7,96.8h0M468.9,98.3h0M486.0,96.9h0M471.9,101.7h0M473.0,102.8h0M474.2,102.5h0M473.4,104.0h0M476.1,105.0h0M481.4,103.8h0M488.8,103.2h0M466.9,106.6h0M466.2,108.2h0M481.9,108.8h0M469.6,110.8h0M471.9,112.3h0M476.1,112.7h0M478.0,113.8h0M481.4,111.5h0M482.9,113.0h0M484.8,114.2h0M486.4,111.1h0M489.0,112.3h0M490.9,111.5h0M467.7,116.9h0M470.4,114.9h0M473.4,117.2h0M476.8,117.6h0M479.1,115.7h0M480.7,117.2h0M482.2,119.1h0M484.5,116.5h0M486.4,117.6h0M489.0,115.7h0M491.3,116.5h0M467.3,119.5h0M471.9,119.1h0M474.2,120.7h0M475.7,119.9h0M479.5,119.9h0M480.3,121.8h0M482.9,120.7h0M487.1,119.9h0M489.4,121.4h0M491.3,120.7h0M462.8,121.4h0M469.6,123.7h0M471.1,122.6h0M473.0,123.3h0M475.3,122.6h0M478.8,124.1h0M481.8,123.3h0M484.1,124.5h0M487.1,123.3h0M490.2,123.7h0M491.7,125.2h0M464.3,125.6h0M465.8,126.4h0M471.9,127.1h0M478.0,126.4h0M481.0,126.0h0M484.8,127.1h0M487.9,126.0h0M489.8,127.1h0M466.6,128.7h0M467.7,130.2h0M471.1,130.9h0M475.3,130.2h0M477.2,129.0h0M479.9,130.6h0M481.8,128.7h0M484.8,130.6h0M488.6,130.9h0M491.3,129.8h0M464.3,132.8h0M469.6,132.5h0M472.7,134.0h0M476.1,132.8h0M478.0,132.1h0M481.0,133.6h0M483.3,132.8h0M486.4,134.0h0M490.2,132.8h0M465.8,135.9h0M468.1,136.3h0M470.0,135.1h0M473.4,136.6h0M476.8,136.3h0M479.5,137.0h0M482.2,135.9h0M484.8,135.5h0M487.9,136.3h0M490.9,136.3h0M465.0,138.6h0M471.1,138.9h0M474.9,138.9h0M478.8,138.2h0M482.6,138.6h0M486.4,139.3h0M489.8,138.2h0M495.0,118.4h0M500.5,119.1h0M492.8,121.4h0M493.1,123.7h0M495.0,124.1h0M496.2,124.5h0M492.8,126.8h0M495.4,127.9h0M492.8,130.2h0M494.3,130.9h0M498.5,130.6h0M503.0,130.6h0M499.6,133.2h0M494.7,132.8h0M505.3,134.7h0M502.7,135.9h0M492.8,135.9h0M494.3,137.0h0M496.9,137.4h0M499.2,136.3h0M492.8,138.9h0M496.6,139.3h0M470.4,141.1h0M478.0,140.4h0M481.8,141.9h0M484.8,143.0h0M488.6,140.8h0M490.9,141.1h0M467.7,144.2h0M468.9,143.8h0M474.2,143.8h0M476.5,144.2h0M478.4,144.9h0M480.3,145.7h0M482.2,144.6h0M483.7,146.1h0M484.8,147.2h0M482.9,148.4h0M484.5,149.1h0M486.4,149.9h0M488.6,147.6h0M489.8,146.9h0M487.9,149.9h0M489.0,151.4h0M484.1,151.8h0M488.3,154.1h0M489.0,155.2h0M491.3,153.3h0M491.3,155.6h0M464.7,146.9h0M462.8,148.4h0M471.9,146.9h0M475.7,148.4h0M470.4,149.5h0M471.5,151.4h0M479.5,147.6h0M480.3,154.5h0M481.4,156.0h0M469.6,156.0h0M487.1,143.8h0M490.6,143.8h0M492.8,140.8h0M495.0,141.1h0M492.8,143.4h0M494.7,143.4h0M497.3,143.0h0M498.9,144.6h0M501.5,144.6h0M503.4,143.0h0M506.8,142.7h0M495.8,147.2h0M496.6,149.5h0M497.3,151.4h0M498.1,153.3h0M500.0,152.2h0M492.8,151.8h0M493.1,154.5h0M492.4,156.0h0M493.5,157.9h0" stroke="#000" stroke-width="2.4" stroke-linecap="round" fill="none"/>
<path d="M613.7,58.4h0M607.4,63.6h0M591.3,72.7h0M594.3,75.4h0M607.1,75.9h0M614.7,78.4h0M618.5,81.1h0M601.9,84.5h0M618.5,86.0h0M593.7,93.6h0M609.9,98.2h0M616.0,97.2h0M614.7,100.1h0M618.5,103.5h0M563.8,101.6h0M573.2,103.1h0M609.9,107.3h0M604.2,109.6h0M637.5,39.8h0M624.3,44.1h0M621.9,48.7h0M628.9,57.3h0M622.4,58.2h0M622.4,62.2h0M647.6,63.9h0M620.9,70.4h0M649.8,72.1h0M637.1,73.5h0M639.6,77.3h0M641.5,80.7h0M646.6,80.7h0M624.1,86.4h0M634.6,86.0h0M645.6,84.5h0M650.4,85.8h0M662.8,85.1h0M625.1,90.6h0M643.4,92.5h0M661.8,91.7h0M622.8,95.9h0M626.2,96.9h0M631.4,97.4h0M639.0,97.4h0M641.5,98.2h0M649.8,97.8h0M664.7,99.1h0M673.8,102.6h0M626.6,102.0h0M630.4,103.1h0M637.1,101.2h0M643.7,100.7h0M645.6,102.6h0M648.5,103.1h0M651.7,103.9h0M633.8,105.4h0M638.4,105.8h0M642.8,105.1h0M653.3,105.1h0M627.6,108.9h0M632.3,109.2h0M638.0,109.2h0M643.7,108.9h0M649.5,109.6h0M604.2,111.0h0M593.2,120.1h0M602.3,118.9h0M608.6,121.0h0M609.9,126.6h0M617.9,122.9h0M616.6,128.1h0M618.5,130.0h0M605.7,138.0h0M609.0,135.3h0M614.1,135.7h0M617.1,134.4h0M625.4,112.0h0M628.5,116.4h0M630.3,116.4h0M625.9,117.8h0M638.3,112.0h0M638.3,116.4h0M640.1,115.1h0M642.3,114.7h0M643.6,114.2h0M646.3,111.1h0M649.9,111.1h0M647.2,116.4h0M645.0,120.0h0M643.6,122.2h0M645.4,123.5h0M648.1,122.7h0M650.3,124.0h0M651.2,121.3h0M638.3,119.1h0M639.7,120.4h0M622.3,121.8h0M630.3,124.4h0M631.2,125.8h0M629.9,127.1h0M627.7,128.4h0M626.8,124.4h0M621.0,126.7h0M633.0,129.8h0M636.1,128.9h0M640.1,128.9h0M642.3,129.8h0M644.5,131.5h0M650.3,128.4h0M651.2,131.1h0M621.4,133.3h0M637.4,133.8h0M634.8,134.6h0M633.9,136.4h0M638.3,135.5h0M640.1,133.8h0M641.9,134.6h0M643.6,136.4h0M646.3,135.5h0M649.0,134.6h0M626.8,136.9h0M630.3,138.2h0M636.5,138.2h0M638.3,137.3h0M641.0,138.2h0M643.6,138.6h0M647.2,138.6h0M649.9,138.2h0M630.3,141.3h0M634.8,140.9h0M638.3,140.9h0M641.9,140.4h0M644.5,141.3h0M647.2,140.9h0M650.8,140.4h0M621.4,142.2h0M627.7,142.2h0M637.4,142.6h0M642.8,142.6h0M653.1,111.1h0M655.3,114.7h0M657.1,114.4h0M658.9,114.0h0M658.2,118.7h0M652.7,121.3h0M654.0,122.7h0M654.9,124.0h0M655.8,124.9h0M664.2,122.2h0M666.4,123.1h0M653.6,127.1h0M652.7,128.9h0M658.0,129.1h0M655.3,132.0h0M654.4,133.3h0M656.2,133.8h0M659.8,134.6h0M653.1,136.4h0M658.4,137.3h0M667.3,138.6h0M672.7,139.5h0M652.7,141.8h0M656.7,141.8h0M664.7,141.8h0M670.4,141.8h0M623.7,144.4h0M624.6,146.7h0M630.8,147.1h0M634.3,144.4h0M635.7,146.2h0M637.4,148.4h0M639.2,147.1h0M641.4,145.3h0M643.6,144.4h0M645.4,143.6h0M648.1,144.0h0M649.9,142.7h0M638.8,151.5h0M641.0,150.7h0M642.8,148.9h0M644.5,148.0h0M646.8,147.1h0M649.0,148.9h0M650.8,149.8h0M642.8,152.4h0M643.6,153.8h0M645.4,155.1h0M645.0,156.9h0M646.3,157.3h0M650.3,152.0h0M634.3,150.2h0M623.7,151.5h0M625.0,153.3h0M628.5,153.8h0M624.1,156.9h0M634.8,162.9h0M637.4,160.4h0M640.1,159.7h0M642.3,158.7h0M640.1,144.0h0M643.6,150.7h0M647.2,151.5h0M652.7,143.6h0M654.0,143.1h0M655.3,144.9h0M659.8,143.6h0M661.5,144.9h0M664.2,144.0h0M666.4,145.3h0M670.0,144.9h0M672.7,143.6h0M652.7,148.4h0M654.4,149.3h0M653.6,151.1h0M656.2,149.8h0M658.9,148.9h0M660.7,148.0h0M662.4,147.1h0M664.2,148.9h0M659.8,151.1h0M661.5,152.0h0M663.3,153.3h0M665.5,152.9h0M667.3,153.3h0M669.5,151.1h0M670.9,153.3h0M671.8,152.0h0M652.7,153.3h0M654.9,155.1h0M657.1,156.0h0M664.7,157.3h0M653.1,158.7h0M658.4,158.7h0M660.7,159.7h0M672.7,157.3h0M676.2,156.4h0M673.1,161.1h0M662.9,150.7h0M657.6,153.3h0M651.8,147.1h0M642.3,144.6h0M643.4,147.6h0M644.2,153.3h0M646.1,156.4h0M648.0,150.3h0M652.2,149.1h0M654.1,154.1h0M655.6,155.6h0M660.9,152.6h0M662.8,154.5h0M664.4,156.4h0M662.1,144.9h0M665.9,153.3h0M641.5,151.4h0M649.9,147.2h0M657.5,149.9h0" stroke="#000" stroke-width="2.4" stroke-linecap="round" fill="none"/>
<path d="M109.9,254.9h0M117.1,254.5h0M120.0,255.9h0M134.3,251.7h0M136.2,254.5h0M122.8,266.9h0M124.7,268.8h0M133.9,269.4h0M148.1,268.2h0M108.6,279.8h0M118.1,279.8h0M120.9,282.5h0M126.6,280.8h0M129.9,282.5h0M129.5,286.5h0M122.3,285.9h0M141.3,283.1h0M148.1,278.3h0M148.9,280.8h0M141.9,287.3h0M116.2,291.1h0M140.0,290.3h0M126.6,294.1h0M127.2,296.8h0M131.0,294.1h0M139.0,295.4h0M147.6,296.4h0M91.0,294.1h0M111.4,296.0h0M115.2,301.2h0M120.0,301.7h0M119.0,303.6h0M104.7,306.9h0M113.9,309.7h0M119.0,309.3h0M104.7,313.9h0M113.3,315.4h0M117.1,315.1h0M121.9,315.4h0M113.3,319.2h0M153.2,273.2h0M153.0,284.6h0M152.0,286.9h0M153.0,299.3h0M156.4,312.0h0M159.3,313.5h0M162.1,315.1h0M157.4,317.3h0M110.9,323.2h0M112.2,327.3h0M114.0,327.3h0M117.1,331.1h0M119.3,328.8h0M130.0,332.2h0M136.6,330.4h0M139.3,330.4h0M125.5,338.4h0M127.8,338.6h0M129.1,338.0h0M134.0,336.7h0M136.2,336.2h0M136.6,338.0h0M120.7,342.4h0M133.5,345.5h0M138.9,346.4h0M135.8,351.3h0M140.2,351.8h0M142.4,352.2h0M149.0,348.2h0M152.6,348.6h0M158.3,348.6h0M161.0,349.1h0M166.8,348.6h0M170.3,347.3h0M156.5,351.3h0M162.3,350.9h0M164.1,351.8h0M173.9,351.8h0M139.3,353.4h0M154.3,354.3h0M155.7,353.0h0M159.7,353.9h0M163.2,354.6h0M168.1,355.7h0M168.8,359.9h0M165.9,351.7h0M92.0,335.8h0M102.1,334.4h0M106.6,335.1h0M137.2,300.8h0M145.2,302.3h0M153.9,300.8h0M132.6,303.4h0M129.2,307.2h0M131.1,306.1h0M133.4,305.7h0M134.9,305.3h0M139.8,308.0h0M142.9,306.9h0M145.6,305.7h0M151.6,306.9h0M128.4,309.1h0M130.3,308.4h0M132.2,309.9h0M134.1,308.4h0M135.7,311.4h0M137.2,311.0h0M140.2,310.7h0M142.5,312.2h0M144.8,311.4h0M147.1,312.9h0M149.4,313.7h0M153.2,311.4h0M129.6,311.4h0M131.9,311.8h0M136.4,313.7h0M138.7,313.3h0M141.0,314.5h0M144.0,314.8h0M147.1,314.5h0M150.1,315.2h0M152.8,316.0h0M154.3,314.8h0M126.1,316.0h0M128.8,316.4h0M130.7,317.1h0M132.2,318.3h0M134.5,318.7h0M137.2,317.5h0M139.8,316.8h0M143.3,317.5h0M150.9,317.9h0M152.4,316.8h0M128.0,322.5h0M132.6,320.6h0M136.4,320.2h0M137.2,322.1h0M139.5,321.7h0M131.1,323.6h0M133.4,324.4h0M134.9,325.9h0M138.3,325.1h0M128.0,327.4h0M132.6,328.2h0M134.9,327.8h0M137.2,328.9h0M140.8,318.8h0M143.0,319.5h0M147.6,319.1h0M151.4,318.8h0M154.1,319.9h0M158.3,319.5h0M141.5,321.8h0M145.3,321.4h0M153.7,321.8h0M156.0,322.6h0M159.0,322.2h0M160.6,323.7h0M141.1,325.2h0M143.0,324.5h0M144.9,325.6h0M147.6,324.9h0M149.9,326.4h0M152.2,325.2h0M154.1,325.6h0M156.8,327.9h0M158.7,327.1h0M160.2,328.7h0M162.1,327.5h0M163.6,329.4h0M141.5,327.9h0M140.8,330.2h0M144.6,329.4h0M146.9,329.8h0M149.1,330.9h0M151.4,330.2h0M153.3,331.3h0M155.2,330.2h0M158.3,330.9h0M161.3,330.9h0M162.8,332.1h0M165.1,333.2h0M167.8,332.1h0M141.5,333.2h0M142.3,334.4h0M147.6,334.4h0M149.9,333.2h0M152.2,333.6h0M154.1,335.1h0M156.0,334.0h0M157.9,334.4h0M159.8,334.8h0M162.8,334.4h0M165.1,334.8h0M167.8,334.4h0M140.8,337.0h0M146.9,336.7h0M149.1,337.4h0M151.4,336.3h0M153.3,338.2h0M155.2,337.0h0M157.5,337.8h0M159.4,336.7h0M162.8,337.8h0M165.1,338.6h0M167.4,339.3h0M141.5,339.3h0M143.8,339.7h0M148.4,340.8h0M150.7,341.6h0M152.9,340.1h0M155.2,340.8h0M157.5,341.2h0M159.8,340.5h0M162.1,342.0h0M164.4,340.8h0M140.8,343.1h0M143.8,344.6h0M147.6,342.7h0M149.9,343.9h0M152.2,345.0h0M155.2,343.9h0M157.5,344.3h0M160.6,343.1h0M162.8,344.6h0M165.1,343.9h0M146.1,346.2h0M149.1,346.9h0M152.9,347.3h0M156.0,346.6h0M159.8,346.9h0M162.8,347.3h0" stroke="#000" stroke-width="2.4" stroke-linecap="round" fill="none"/>
<path d="M306.6,272.8h0M308.9,272.8h0M298.8,277.5h0M296.3,282.5h0M298.6,283.4h0M312.0,282.5h0M276.0,284.3h0M288.6,284.8h0M305.1,284.8h0M297.7,284.5h0M340.2,244.6h0M314.3,251.2h0M342.3,254.8h0M341.9,258.0h0M323.1,262.5h0M325.9,261.9h0M331.1,264.6h0M336.0,266.3h0M316.9,270.8h0M327.1,269.9h0M321.9,273.7h0M328.3,273.9h0M332.0,273.6h0M342.3,274.3h0M340.2,276.3h0M319.8,276.3h0M327.1,278.3h0M334.8,278.3h0M331.1,280.2h0M339.8,280.2h0M319.2,280.2h0M319.2,282.3h0M319.2,284.0h0M321.9,283.4h0M327.1,284.3h0M297.7,285.9h0M302.3,286.7h0M304.5,286.1h0M301.1,290.1h0M297.7,291.9h0M306.8,290.7h0M311.4,292.4h0M289.7,293.2h0M272.0,296.4h0M297.7,294.7h0M297.7,296.4h0M302.3,295.3h0M302.8,297.0h0M309.1,296.4h0M311.4,298.1h0M310.8,299.8h0M300.0,299.6h0M304.5,299.3h0M306.8,301.0h0M294.8,302.4h0M302.3,303.3h0M304.5,303.8h0M307.4,305.0h0M309.7,306.1h0M312.0,303.8h0M278.3,306.7h0M293.7,306.7h0M296.6,309.0h0M298.8,307.8h0M300.6,307.3h0M301.1,309.6h0M305.1,309.6h0M308.0,309.0h0M311.4,309.0h0M312.0,312.4h0M274.3,311.0h0M289.7,311.0h0M292.6,313.6h0M295.4,313.0h0M297.7,312.4h0M302.3,312.4h0M304.5,314.1h0M308.0,313.6h0M278.3,314.7h0M297.7,316.4h0M302.3,315.8h0M306.8,316.4h0M311.4,314.7h0M286.3,317.6h0M288.6,318.1h0M293.1,318.1h0M296.6,319.3h0M299.4,319.8h0M304.5,319.3h0M308.5,318.7h0M311.4,317.6h0M292.0,321.5h0M294.3,322.1h0M302.3,321.5h0M305.7,322.1h0M285.1,322.1h0M283.4,324.4h0M286.3,323.8h0M290.8,324.4h0M295.4,325.5h0M301.1,325.0h0M304.5,324.4h0M307.4,324.4h0M311.4,324.4h0M272.0,324.7h0M280.0,325.9h0M285.7,327.3h0M289.7,328.2h0M294.3,328.6h0M300.0,327.8h0M305.7,327.3h0M309.1,328.4h0M319.4,285.6h0M329.7,286.7h0M315.4,289.8h0M328.6,290.7h0M332.6,290.7h0M338.3,293.9h0M320.6,293.2h0M324.6,294.7h0M329.1,294.7h0M318.3,295.9h0M322.3,297.0h0M314.3,296.4h0M328.0,297.6h0M332.0,298.1h0M338.3,298.9h0M319.4,299.8h0M322.3,299.6h0M325.7,299.8h0M332.0,301.0h0M324.6,302.7h0M330.8,303.8h0M332.0,305.6h0M334.8,305.0h0M337.1,306.1h0M314.9,305.0h0M318.9,306.1h0M321.1,307.3h0M323.4,308.4h0M326.3,307.8h0M318.3,309.0h0M331.4,308.4h0M333.7,309.6h0M316.6,313.0h0M316.0,315.3h0M317.1,317.0h0M319.4,315.8h0M324.0,313.6h0M325.1,315.3h0M328.6,317.0h0M334.8,318.1h0M339.4,318.1h0M324.6,318.1h0M321.1,319.3h0M329.7,322.1h0M324.6,322.1h0M333.7,321.3h0M336.0,324.4h0M328.0,324.7h0M319.4,324.4h0M315.4,323.8h0M318.3,329.0h0M325.1,329.0h0M332.0,328.4h0M285.1,330.3h0M290.8,330.9h0M272.0,334.9h0M282.3,334.9h0M285.1,336.6h0M291.4,336.6h0M294.3,336.0h0M297.1,336.6h0M300.0,336.0h0M302.3,332.6h0M304.5,333.1h0M308.0,330.9h0M308.0,336.0h0M286.3,340.0h0M291.4,340.0h0M293.7,340.0h0M298.3,338.9h0M302.3,338.9h0M304.0,340.6h0M309.7,339.4h0M312.0,340.6h0M312.0,344.0h0M285.1,342.8h0M288.6,343.4h0M292.0,343.4h0M294.3,344.0h0M297.7,342.3h0M300.0,342.8h0M305.1,342.8h0M280.0,345.7h0M282.3,345.1h0M286.8,345.7h0M290.3,346.3h0M292.6,345.7h0M278.3,348.6h0M280.6,348.6h0M283.4,348.6h0M288.6,348.6h0M290.8,349.1h0M295.4,348.0h0M300.0,348.0h0M304.0,348.6h0M285.1,352.6h0M287.4,350.8h0M294.8,352.6h0M288.6,355.4h0M290.8,355.4h0M294.3,354.8h0M276.0,355.6h0M300.0,354.8h0M310.3,354.8h0M277.1,364.0h0M292.6,364.0h0M297.7,364.0h0M302.8,364.0h0M308.0,364.0h0M325.7,330.5h0M337.1,330.9h0M315.4,333.1h0M318.3,332.0h0M320.6,333.1h0M322.8,332.3h0M328.6,334.9h0M321.7,336.6h0M322.8,336.2h0M315.4,336.2h0M316.6,339.4h0M313.7,340.6h0M314.9,345.7h0M317.1,344.0h0M321.7,345.7h0M324.6,344.0h0M326.8,344.0h0M338.3,348.0h0M318.3,350.8h0M340.0,354.8h0M318.3,364.0h0" stroke="#000" stroke-width="2.4" stroke-linecap="round" fill="none"/>
<path d="M450.5,266.9h0M467.1,268.9h0M452.3,274.0h0M472.0,277.9h0M450.5,291.1h0M470.0,290.8h0M465.9,295.4h0M454.8,299.1h0M460.3,300.9h0M459.4,304.0h0M465.9,303.6h0M470.6,304.5h0M475.2,303.2h0M481.7,269.7h0M488.8,271.8h0M500.9,284.2h0M505.1,293.1h0M502.3,295.2h0M504.9,295.2h0M478.3,299.1h0M482.9,298.8h0M480.6,300.9h0M482.9,302.0h0M477.1,302.8h0M492.3,297.7h0M492.0,299.4h0M490.3,302.5h0M495.4,302.0h0M509.7,300.5h0M507.2,304.0h0M445.1,305.7h0M442.3,313.5h0M460.6,309.1h0M461.1,311.4h0M459.4,312.8h0M453.1,318.0h0M447.4,320.9h0M456.0,320.6h0M455.4,322.3h0M450.8,324.0h0M440.6,324.6h0M461.1,318.8h0M464.0,314.8h0M466.3,313.7h0M468.5,312.6h0M469.7,316.0h0M472.5,309.7h0M476.0,318.3h0M466.3,321.1h0M470.8,320.6h0M473.1,322.8h0M466.3,324.0h0M475.4,323.4h0M456.6,324.6h0M461.1,324.6h0M472.0,329.7h0M474.8,330.3h0M438.9,331.4h0M437.1,337.1h0M470.8,333.1h0M474.3,334.3h0M473.1,337.1h0M476.0,338.8h0M472.0,342.8h0M475.4,342.3h0M478.9,307.8h0M486.8,309.7h0M493.1,310.9h0M496.6,305.5h0M500.6,306.3h0M505.1,308.6h0M502.3,313.9h0M481.7,311.4h0M482.9,312.8h0M480.0,314.3h0M486.8,317.7h0M489.7,318.8h0M490.3,320.6h0M496.6,318.8h0M500.6,320.6h0M508.5,321.7h0M481.7,317.7h0M480.6,319.4h0M477.7,321.1h0M483.4,324.6h0M486.8,326.3h0M488.6,328.6h0M490.8,329.7h0M492.6,328.0h0M495.4,326.8h0M497.7,325.7h0M484.6,327.4h0M480.6,328.6h0M478.3,330.8h0M481.1,333.1h0M480.6,336.5h0M483.4,336.0h0M484.0,338.8h0M489.1,337.7h0M489.7,340.5h0M492.6,334.3h0M496.0,334.3h0M497.7,336.0h0M506.3,332.2h0M508.5,333.7h0M477.7,342.3h0M481.1,341.7h0M485.7,342.8h0M488.0,343.4h0M438.9,348.1h0M474.3,346.4h0M470.8,352.1h0M471.4,353.8h0M474.8,355.6h0M453.7,356.5h0M456.6,356.7h0M460.0,359.9h0M468.3,359.0h0M483.4,350.4h0M486.8,348.7h0M488.0,351.6h0M489.7,351.0h0M486.3,353.8h0M485.7,355.6h0M491.4,355.0h0M495.4,359.0h0M489.1,361.0h0M489.1,344.7h0M490.3,345.1h0M454.8,326.1h0M457.5,327.3h0M459.8,326.5h0M462.1,327.7h0M464.4,328.8h0M453.7,329.6h0M456.0,331.1h0M458.3,330.3h0M460.6,329.6h0M462.8,330.7h0M465.1,331.9h0M467.4,331.1h0M469.3,332.6h0M451.4,332.6h0M452.9,334.5h0M455.2,333.4h0M457.5,334.1h0M459.4,332.6h0M461.3,334.9h0M465.1,333.8h0M469.3,334.9h0M450.7,336.4h0M454.1,336.4h0M456.0,337.9h0M458.3,338.7h0M460.6,337.2h0M462.5,336.8h0M464.4,336.4h0M467.0,337.2h0M468.9,337.9h0M446.9,338.7h0M448.4,340.2h0M452.2,341.4h0M455.2,339.5h0M457.5,340.2h0M460.2,339.8h0M462.1,341.0h0M464.4,340.2h0M466.6,339.5h0M468.6,341.0h0M448.8,341.8h0M454.5,343.7h0M459.0,342.5h0M463.2,343.3h0M465.9,342.5h0M468.2,343.3h0M444.9,345.2h0M449.9,345.6h0M451.4,346.3h0M452.9,347.1h0M456.0,347.8h0M459.0,345.6h0M460.9,346.7h0M462.8,347.8h0M465.1,346.3h0M467.0,345.6h0M468.9,346.7h0M446.9,347.8h0M447.6,349.4h0M450.7,349.4h0M453.7,347.8h0M461.7,349.4h0M462.8,348.6h0M468.2,348.6h0M455.6,352.8h0M467.0,351.3h0M469.3,350.9h0M469.1,312.2h0M470.3,313.3h0M468.8,314.8h0M471.0,316.4h0M472.2,318.3h0M473.3,319.8h0M469.5,321.3h0M471.4,322.8h0M473.7,323.6h0M475.6,322.1h0M476.8,324.4h0M477.9,322.8h0M472.6,325.1h0M474.9,325.9h0M469.9,324.4h0" stroke="#000" stroke-width="2.4" stroke-linecap="round" fill="none"/>
<path d="M631.8,283.2h0M639.3,284.4h0M615.0,287.8h0M629.8,293.3h0M631.0,297.3h0M628.7,299.0h0M634.6,298.2h0M646.1,262.8h0M644.1,268.4h0M659.2,271.2h0M650.8,277.6h0M652.7,280.1h0M643.0,284.4h0M649.8,288.9h0M654.6,287.9h0M653.6,291.5h0M644.1,295.2h0M655.6,295.9h0M647.0,298.2h0M652.7,299.0h0M659.0,299.0h0M611.0,301.6h0M618.4,300.5h0M637.3,300.7h0M620.7,304.1h0M623.0,303.6h0M625.8,303.6h0M629.3,303.0h0M631.5,303.2h0M639.0,304.1h0M622.4,307.0h0M629.3,306.4h0M632.1,306.4h0M639.0,306.4h0M609.3,309.3h0M611.0,309.8h0M622.4,309.8h0M624.7,311.0h0M599.0,314.6h0M616.1,314.6h0M619.6,314.6h0M632.7,313.8h0M635.0,314.4h0M637.8,315.6h0M628.1,317.3h0M629.8,318.4h0M632.1,319.0h0M635.5,317.8h0M638.4,319.0h0M615.0,319.0h0M617.8,319.0h0M600.1,323.0h0M604.1,323.6h0M624.1,322.4h0M629.3,322.4h0M631.5,323.6h0M635.0,323.0h0M637.8,322.4h0M612.1,325.3h0M615.6,325.6h0M622.4,327.0h0M625.8,325.8h0M632.7,326.4h0M636.1,327.0h0M639.0,325.3h0M599.6,328.7h0M611.0,331.5h0M616.7,331.5h0M619.0,332.7h0M623.6,331.0h0M626.4,331.5h0M629.3,331.5h0M632.7,332.7h0M636.1,332.1h0M606.4,336.1h0M612.1,335.5h0M617.8,335.0h0M621.3,336.7h0M624.1,335.5h0M627.0,336.1h0M630.4,335.0h0M633.8,335.5h0M637.3,336.1h0M611.0,339.0h0M616.1,339.0h0M621.3,339.0h0M625.8,339.0h0M632.7,339.0h0M636.1,339.0h0M673.3,300.7h0M674.4,302.4h0M648.7,301.9h0M650.4,301.3h0M659.6,303.6h0M663.0,304.7h0M646.4,304.1h0M643.6,307.0h0M652.1,305.9h0M655.6,304.7h0M649.8,307.0h0M647.0,312.1h0M650.4,311.6h0M652.7,310.4h0M653.8,312.1h0M659.0,308.7h0M667.0,309.3h0M667.6,312.1h0M665.8,313.3h0M663.0,313.8h0M674.4,316.9h0M641.3,315.0h0M643.0,316.1h0M649.3,316.7h0M652.1,315.0h0M655.0,315.6h0M656.1,319.0h0M663.0,317.3h0M666.4,319.0h0M667.0,321.3h0M646.4,319.6h0M643.6,319.6h0M648.7,319.0h0M640.1,322.4h0M646.4,322.4h0M659.0,323.6h0M656.1,325.3h0M644.1,326.4h0M652.1,328.1h0M655.0,328.7h0M649.8,329.3h0M657.8,328.1h0M662.4,328.7h0M672.7,329.0h0M647.0,332.1h0M641.3,332.7h0M643.0,334.4h0M652.1,332.1h0M653.3,334.4h0M657.8,332.7h0M661.3,331.5h0M663.6,334.4h0M669.3,336.7h0M675.5,334.4h0M649.8,336.1h0M652.1,337.8h0M656.7,337.3h0M660.1,338.4h0M663.6,337.3h0M667.0,339.0h0M641.9,338.4h0M608.7,341.3h0M612.1,340.7h0M608.1,343.6h0M605.3,345.9h0M612.1,344.7h0M613.8,345.9h0M615.0,347.0h0M617.3,344.7h0M620.1,342.4h0M622.4,343.0h0M623.0,345.3h0M623.6,347.6h0M626.4,343.0h0M628.1,344.1h0M628.1,345.9h0M631.5,342.4h0M631.0,347.6h0M634.4,344.1h0M635.0,346.4h0M637.3,343.0h0M637.8,347.0h0M613.3,351.0h0M608.7,352.7h0M619.6,351.0h0M625.3,351.0h0M625.8,350.4h0M636.1,351.0h0M622.2,355.6h0M634.4,356.5h0M638.2,356.5h0M595.6,349.8h0M641.9,341.3h0M644.1,340.7h0M645.9,341.9h0M646.4,343.0h0M659.0,340.7h0M661.8,340.1h0M664.1,339.6h0M673.3,340.7h0M659.0,342.4h0M640.1,344.7h0M643.0,345.9h0M641.9,347.6h0M647.0,345.9h0M648.1,347.6h0M647.0,349.3h0M649.8,351.0h0M651.6,351.0h0M653.8,351.0h0M659.0,347.6h0M669.8,352.7h0M648.1,356.1h0" stroke="#000" stroke-width="2.4" stroke-linecap="round" fill="none"/>
<path d="M90.20,92.33L92.26,92.11L94.31,91.96L96.37,91.89L98.43,91.90L100.49,91.98L102.55,92.15L104.60,92.39L106.66,92.71L108.72,93.10L110.78,93.58L112.83,94.13L114.89,94.76L116.95,95.47L119.00,96.25L121.06,97.12L123.12,98.06L125.18,99.08L127.23,100.17L129.29,101.35L131.35,102.60L133.41,103.93L135.47,105.34L137.52,106.82L139.58,108.39L141.64,110.03L143.69,111.74L145.75,113.54L147.81,115.41L149.87,117.37L151.93,119.40L153.98,121.50L156.04,123.69L158.10,125.95L160.16,128.29L162.21,130.71L164.27,133.20L166.33,135.78L168.38,138.43L170.44,141.16L172.50,143.96" fill="none" stroke="#1a1aff" stroke-width="1.2"/>
<path d="M239.30,115.76L241.80,115.83L244.29,115.94L246.79,116.11L249.28,116.34L251.78,116.62L254.27,116.95L256.76,117.33L259.26,117.77L261.75,118.26L264.25,118.81L266.75,119.41L269.24,120.06L271.74,120.77L274.23,121.53L276.73,122.35L279.22,123.22L281.72,124.14L284.21,125.11L286.71,126.14L289.20,127.23L291.69,128.37L294.19,129.56L296.69,130.80L299.18,132.10L301.68,133.45L304.17,134.86L306.67,136.32L309.16,137.83L311.66,139.40L314.15,141.02L316.64,142.69L319.14,144.42L321.63,146.20L324.13,148.04L326.62,149.93L329.12,151.87L331.62,153.87L334.11,155.92L336.61,158.02L339.10,160.18" fill="none" stroke="#1a1aff" stroke-width="1.2"/>
<path d="M383.00,99.61L386.37,100.64L389.74,101.68L393.10,102.72L396.47,103.75L399.84,104.79L403.20,105.82L406.57,106.86L409.94,107.90L413.31,108.93L416.68,109.97L420.04,111.01L423.41,112.04L426.78,113.08L430.15,114.11L433.51,115.15L436.88,116.19L440.25,117.22L443.62,118.26L446.98,119.30L450.35,120.33L453.72,121.37L457.09,122.40L460.45,123.44L463.82,124.48L467.19,125.51L470.56,126.55L473.92,127.59L477.29,128.62L480.66,129.66L484.03,130.70L487.39,131.73L490.76,132.77L494.13,133.80L497.50,134.84L500.86,135.88L504.23,136.91L507.60,137.95L510.97,138.99L514.33,140.02L517.70,141.06" fill="none" stroke="#1a1aff" stroke-width="1.2"/>
<path d="M563.90,80.21L566.70,81.68L569.50,83.17L572.29,84.68L575.09,86.20L577.89,87.74L580.68,89.30L583.48,90.87L586.28,92.46L589.08,94.07L591.88,95.69L594.67,97.33L597.47,98.99L600.27,100.66L603.06,102.35L605.86,104.06L608.66,105.78L611.46,107.52L614.25,109.28L617.05,111.06L619.85,112.85L622.65,114.65L625.44,116.48L628.24,118.32L631.04,120.17L633.84,122.05L636.63,123.94L639.43,125.85L642.23,127.77L645.03,129.71L647.82,131.67L650.62,133.64L653.42,135.63L656.22,137.64L659.01,139.66L661.81,141.70L664.61,143.76L667.41,145.83L670.20,147.92L673.00,150.03L675.80,152.15" fill="none" stroke="#1a1aff" stroke-width="1.2"/>
<path d="M91.00,306.64L93.09,306.19L95.19,305.82L97.28,305.55L99.37,305.35L101.46,305.25L103.55,305.22L105.65,305.29L107.74,305.44L109.83,305.67L111.92,305.99L114.02,306.40L116.11,306.89L118.20,307.47L120.29,308.14L122.39,308.88L124.48,309.72L126.57,310.64L128.66,311.65L130.76,312.74L132.85,313.92L134.94,315.18L137.03,316.53L139.13,317.96L141.22,319.49L143.31,321.09L145.41,322.78L147.50,324.56L149.59,326.42L151.68,328.37L153.77,330.41L155.87,332.53L157.96,334.73L160.05,337.03L162.14,339.40L164.24,341.87L166.33,344.41L168.42,347.05L170.51,349.77L172.61,352.57L174.70,355.47" fill="none" stroke="#1a1aff" stroke-width="1.2"/>
<path d="M231.10,370.42L234.09,368.61L237.08,366.80L240.07,364.99L243.06,363.18L246.05,361.37L249.04,359.56L252.03,357.75L255.02,355.94L258.01,354.13L261.00,352.32L263.99,350.51L266.98,348.70L269.97,346.89L272.96,345.08L275.95,343.27L278.94,341.46L281.93,339.65L284.92,337.84L287.91,336.03L290.90,334.22L293.89,332.41L296.88,330.60L299.87,328.79L302.86,326.98L305.85,325.17L308.84,323.36L311.83,321.55L314.82,319.74L317.81,317.93L320.80,316.12L323.79,314.31L326.78,312.50L329.77,310.69L332.76,308.88L335.75,307.07L338.74,305.26L341.73,303.45L344.72,301.64L347.71,299.83L350.70,298.02" fill="none" stroke="#1a1aff" stroke-width="1.2"/>
<path d="M380.40,344.63L383.81,343.99L387.22,343.35L390.63,342.71L394.04,342.07L397.45,341.44L400.86,340.80L404.27,340.16L407.68,339.52L411.09,338.88L414.50,338.24L417.91,337.60L421.32,336.96L424.73,336.32L428.14,335.68L431.55,335.05L434.96,334.41L438.37,333.77L441.78,333.13L445.19,332.49L448.60,331.85L452.01,331.21L455.42,330.57L458.83,329.93L462.24,329.29L465.65,328.65L469.06,328.02L472.47,327.38L475.88,326.74L479.29,326.10L482.70,325.46L486.11,324.82L489.52,324.18L492.93,323.54L496.34,322.90L499.75,322.26L503.16,321.63L506.57,320.99L509.98,320.35L513.39,319.71L516.80,319.07" fill="none" stroke="#1a1aff" stroke-width="1.2"/>
<path d="M548.20,331.52L551.56,331.31L554.93,331.10L558.29,330.89L561.65,330.67L565.01,330.46L568.38,330.25L571.74,330.04L575.10,329.83L578.46,329.62L581.83,329.41L585.19,329.19L588.55,328.98L591.91,328.77L595.28,328.56L598.64,328.35L602.00,328.14L605.36,327.93L608.73,327.71L612.09,327.50L615.45,327.29L618.81,327.08L622.18,326.87L625.54,326.66L628.90,326.45L632.26,326.23L635.62,326.02L638.99,325.81L642.35,325.60L645.71,325.39L649.08,325.18L652.44,324.97L655.80,324.75L659.16,324.54L662.53,324.33L665.89,324.12L669.25,323.91L672.61,323.70L675.98,323.49L679.34,323.27L682.70,323.06" fill="none" stroke="#1a1aff" stroke-width="1.2"/>
</svg>
</body></html>
